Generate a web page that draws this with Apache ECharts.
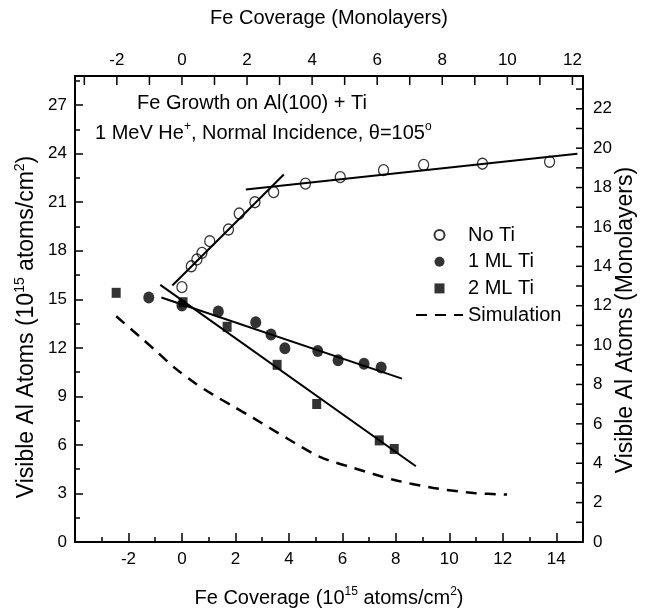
<!DOCTYPE html>
<html><head><meta charset="utf-8">
<script src="https://cdn.jsdelivr.net/npm/echarts@6/dist/echarts.min.js"></script>
<style>html,body{margin:0;padding:0;background:#fff}#c{width:647px;height:612px}</style>
</head><body><div id="c"></div>
<script>
const FONT = '"Liberation Sans", Arial, Helvetica, sans-serif';
const ML_FACTOR = 1.217;           // 1 monolayer = 1.217e15 atoms/cm^2
const X_MIN = -4, X_MAX = 15, Y_MIN = 0, Y_MAX = 28.8;

// tick labels / tick positions
const bottomMinorTicks = [-3, -1, 1, 3, 5, 7, 9, 11, 13];
const leftMinorTicks = [1.5, 4.5, 7.5, 10.5, 13.5, 16.5, 19.5, 22.5, 25.5, 28.5];
const topLabels = [-2, 0, 2, 4, 6, 8, 10, 12];
const topTicks = [-3, -2, -1, 0, 1, 2, 3, 4, 5, 6, 7, 8, 9, 10, 11, 12];
const rightLabels = [0, 2, 4, 6, 8, 10, 12, 14, 16, 18, 20, 22];
const rightTicks = [1, 2, 3, 4, 5, 6, 7, 8, 9, 10, 11, 12, 13, 14, 15, 16, 17, 18, 19, 20, 21, 22, 23];

// legend names
const seriesNames = ['No Ti', '1 ML Ti', '2 ML Ti', 'Simulation'];

// data [Fe coverage (1e15 atoms/cm2), visible Al atoms (1e15 atoms/cm2)]
const noTi = [[0.0, 15.75], [0.35, 17.04], [0.56, 17.46], [0.75, 17.87], [1.04, 18.59], [1.74, 19.31],
  [2.14, 20.30], [2.73, 21.0], [3.43, 21.62], [4.62, 22.15], [5.92, 22.55], [7.54, 22.98],
  [9.04, 23.31], [11.24, 23.38], [13.75, 23.5]];
const oneML = [[-1.24, 15.11], [0.0, 14.61], [1.36, 14.24], [2.76, 13.58], [3.33, 12.82], [3.85, 11.97],
  [5.08, 11.81], [5.84, 11.23], [6.81, 11.01], [7.45, 10.78]];
const twoML = [[-2.46, 15.40], [0.04, 14.82], [1.69, 13.30], [3.56, 10.95], [5.04, 8.53], [7.38, 6.28], [7.94, 5.75]];
const simulation = [[-2.46, 13.95], [-1.59, 12.71], [-0.96, 11.79], [-0.27, 10.76], [0.48, 9.83], [1.16, 9.11],
  [1.91, 8.39], [2.66, 7.67], [3.91, 6.43], [5.16, 5.26], [6.41, 4.58], [7.91, 3.85], [9.41, 3.34],
  [10.91, 3.03], [12.16, 2.93]];
// fitted straight lines (end points)
const fitNoTiLow = [[-0.36, 15.85], [3.81, 22.71]];
const fitNoTiHigh = [[2.39, 21.79], [14.79, 23.99]];
const fitOneML = [[-0.77, 15.11], [8.23, 10.10]];
const fitTwoML = [[-0.81, 15.89], [8.75, 4.68]];

const chart = echarts.init(document.getElementById('c'), null, {renderer: 'canvas'});
const G = {left: 75, right: 64, top: 76, bottom: 70};
const gridRect = () => Object.assign({outerBoundsMode: 'none'}, G);
const lbl = (m) => ({color: '#000', fontSize: 17, fontFamily: FONT, margin: m});
const mkLine = () => ({show: true, onZero: false, lineStyle: {color: '#000', width: 2}});
const noLine = () => ({show: false, onZero: false});
const tickStyle = () => ({color: '#000', width: 1.5});
const titleRich = {
  a: {fontSize: 20, fontFamily: FONT, color: '#000', lineHeight: 24},
  s: {fontSize: 12, fontFamily: FONT, color: '#000', lineHeight: 12, verticalAlign: 'top'}
};
const vRich = {
  a: {fontSize: 23, fontFamily: FONT, color: '#000', lineHeight: 28},
  s: {fontSize: 14, fontFamily: FONT, color: '#000', lineHeight: 14, verticalAlign: 'top'}
};

const lineSeries = (name, data) => ({
  name, type: 'line', data, xAxisIndex: 0, yAxisIndex: 0, symbol: 'none', z: 3,
  lineStyle: {color: '#000', width: 2}, silent: true
});

const annotations = [
  {type: 'text', x: 137, y: 103, style: {text: 'Fe Growth on Al(100) + Ti', fontSize: 20, fontFamily: FONT, fill: '#000', align: 'left', verticalAlign: 'middle'}},
  {type: 'text', x: 95, y: 133, style: {
    text: '{a|1 MeV He}{s|+}{a|, Normal Incidence, θ=105}{s|o}', rich: titleRich, align: 'left', verticalAlign: 'middle'}},
  {type: 'text', x: 27, y: 327, rotation: Math.PI / 2, style: {
    text: '{a|Visible Al Atoms (10}{s|15}{a| atoms/cm}{s|2}{a|)}', rich: vRich, align: 'center', verticalAlign: 'middle'}},
  {type: 'text', x: 626, y: 320, rotation: Math.PI / 2, style: {
    text: '{a|Visible Al Atoms (Monolayers)}', rich: vRich, align: 'center', verticalAlign: 'middle'}}
];

chart.setOption({
  animation: false,
  backgroundColor: '#fff',
  textStyle: {fontFamily: FONT},
  grid: [gridRect(), gridRect()],
  xAxis: [
    { // bottom: labels + major ticks
      type: 'value', gridIndex: 0, position: 'bottom', min: X_MIN, max: X_MAX, interval: 2,
      axisLine: mkLine(), splitLine: {show: false},
      axisTick: {show: true, inside: true, length: 9, lineStyle: tickStyle()},
      axisLabel: Object.assign(lbl(9), {showMinLabel: false, showMaxLabel: false}),
      name: '{a|Fe Coverage (10}{s|15}{a| atoms/cm}{s|2}{a|)}',
      nameLocation: 'middle', nameGap: 44, nameMoveOverlap: false,
      nameTextStyle: {rich: titleRich}
    },
    { // top: monolayer labels
      type: 'value', gridIndex: 0, position: 'top', min: X_MIN / ML_FACTOR, max: X_MAX / ML_FACTOR,
      axisLine: mkLine(), splitLine: {show: false},
      axisTick: {show: false},
      axisLabel: Object.assign(lbl(7), {customValues: topLabels}),
      name: '{a|Fe Coverage (Monolayers)}',
      nameLocation: 'middle', nameGap: 46, nameMoveOverlap: false,
      nameTextStyle: {rich: titleRich}
    },
    { // bottom minor ticks
      type: 'value', gridIndex: 1, position: 'bottom', min: X_MIN, max: X_MAX,
      axisLine: noLine(), splitLine: {show: false}, axisLabel: {show: false},
      axisTick: {show: true, inside: true, length: 5, customValues: bottomMinorTicks, lineStyle: tickStyle()}
    }
  ],
  yAxis: [
    { // left: labels + major ticks
      type: 'value', gridIndex: 0, position: 'left', min: Y_MIN, max: Y_MAX, interval: 3,
      axisLine: mkLine(), splitLine: {show: false},
      axisTick: {show: true, inside: true, length: 8, lineStyle: tickStyle()},
      axisLabel: Object.assign(lbl(8), {showMaxLabel: false})
    },
    { // right: monolayer labels
      type: 'value', gridIndex: 0, position: 'right', min: Y_MIN / ML_FACTOR, max: Y_MAX / ML_FACTOR,
      axisLine: mkLine(), splitLine: {show: false},
      axisTick: {show: false},
      axisLabel: Object.assign(lbl(10), {customValues: rightLabels})
    },
    { // left minor ticks
      type: 'value', gridIndex: 1, position: 'left', min: Y_MIN, max: Y_MAX,
      axisLine: noLine(), splitLine: {show: false}, axisLabel: {show: false},
      axisTick: {show: true, inside: true, length: 5, customValues: leftMinorTicks, lineStyle: tickStyle()}
    }
  ],
  legend: {
    data: [
      {name: seriesNames[0]},
      {name: seriesNames[1]},
      {name: seriesNames[2], icon: 'path://M0,0L10,0L10,10L0,10Z'},
      {name: seriesNames[3], itemStyle: {opacity: 0}}
    ],
    orient: 'vertical', left: 415, top: 225, padding: 0,
    itemWidth: 47, itemHeight: 10, itemGap: 6.7,
    textStyle: {fontSize: 20, fontFamily: FONT, color: '#000'},
    selectedMode: false
  },
  graphic: annotations,
  series: [
    lineSeries('fit-noTi-low', fitNoTiLow),
    lineSeries('fit-noTi-high', fitNoTiHigh),
    lineSeries('fit-1ML', fitOneML),
    lineSeries('fit-2ML', fitTwoML),
    {
      name: seriesNames[0], type: 'scatter', data: noTi, xAxisIndex: 0, yAxisIndex: 0,
      symbol: 'circle', symbolSize: [10, 11], z: 4,
      itemStyle: {color: 'rgba(0,0,0,0)', borderColor: '#000', borderWidth: 1.3}
    },
    {
      name: seriesNames[1], type: 'scatter', data: oneML, xAxisIndex: 0, yAxisIndex: 0,
      symbol: 'circle', symbolSize: [11, 12], z: 4, itemStyle: {color: '#000'}
    },
    {
      name: seriesNames[2], type: 'scatter', data: twoML, xAxisIndex: 0, yAxisIndex: 0,
      symbol: 'rect', symbolSize: [9, 10], z: 4, itemStyle: {color: '#000'}
    },
    {
      name: seriesNames[3], type: 'line', data: simulation, xAxisIndex: 0, yAxisIndex: 0,
      symbol: 'none', smooth: 0.3, z: 3, itemStyle: {color: '#000'},
      lineStyle: {color: '#000', width: 2.5, type: [11, 8]}
    }
  ]
});

// monolayer-axis tick marks, placed through the top / right axes' own scales
const topY = chart.convertToPixel({yAxisIndex: 0}, Y_MAX);
const rightX = chart.convertToPixel({xAxisIndex: 0}, X_MAX);
const tickMarks = [];
topTicks.forEach(v => {
  const x = chart.convertToPixel({xAxisIndex: 1}, v);
  tickMarks.push({type: 'line', z: 100, silent: true,
    shape: {x1: x, y1: topY, x2: x, y2: topY + 9}, style: {stroke: '#000', lineWidth: 1.5}});
});
rightTicks.forEach(v => {
  const y = chart.convertToPixel({yAxisIndex: 1}, v);
  tickMarks.push({type: 'line', z: 100, silent: true,
    shape: {x1: rightX - 7, y1: y, x2: rightX, y2: y}, style: {stroke: '#000', lineWidth: 1.5}});
});
chart.setOption({graphic: annotations.concat(tickMarks)});
</script>
</body></html>
